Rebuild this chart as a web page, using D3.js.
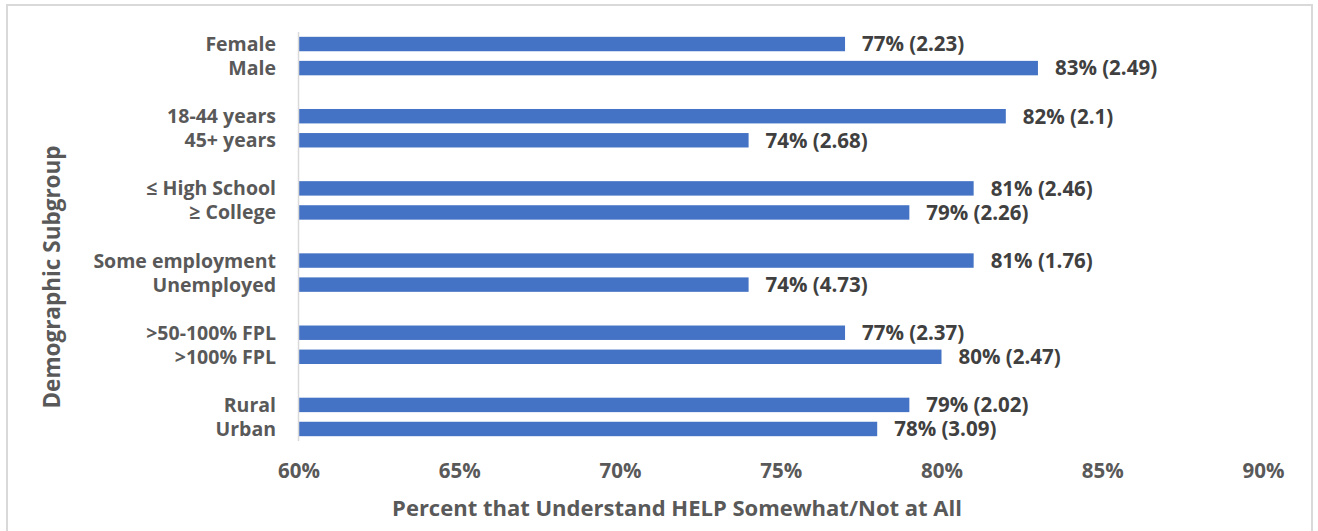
<!DOCTYPE html>
<html>
<head>
<meta charset="utf-8">
<script src="https://cdn.jsdelivr.net/npm/d3@7"></script>
<style>
  html, body { margin: 0; padding: 0; background: #ffffff; }
  svg { display: block; font-family: "Open Sans", "DejaVu Sans", sans-serif; }
</style>
</head>
<body>
<svg id="chart" width="1318" height="531"></svg>
<script>
// Subgroups, listed top to bottom; pairs belong to the same grouping variable
const categories = [
  "Female", "Male",
  "18-44 years", "45+ years",
  "\u2264 High School", "\u2265 College",
  "Some employment", "Unemployed",
  ">50-100% FPL", ">100% FPL",
  "Rural", "Urban"
];
const groupIndex = [0, 0, 1, 1, 2, 2, 3, 3, 4, 4, 5, 5];
const percentValues = [77, 83, 82, 74, 81, 79, 81, 74, 77, 80, 79, 78];
const standardErrors = [2.23, 2.49, 2.1, 2.68, 2.46, 2.26, 1.76, 4.73, 2.37, 2.47, 2.02, 3.09];
const xTicks = [60, 65, 70, 75, 80, 85, 90];

const svg = d3.select("#chart");
const margin = { top: 32, left: 298.5 };
const plotRight = 1263;
const plotBottom = 441;

// outer frame
svg.append("rect")
  .attr("x", 7).attr("y", 5)
  .attr("width", 1305).attr("height", 540)
  .attr("fill", "#ffffff")
  .attr("stroke", "#d9d9d9")
  .attr("stroke-width", 2);

// a blank slot separates each pair of subgroups
const slotOf = (i) => i + groupIndex[i];
const nSlots = slotOf(categories.length - 1) + 1;

const x = d3.scaleLinear().domain([60, 90]).range([margin.left, plotRight]);
const y = d3.scaleBand()
  .domain(d3.range(nSlots))
  .range([margin.top, plotBottom])
  .paddingInner(0.4)
  .paddingOuter(0.2);

const rows = categories.map((c, i) => ({
  label: c, value: percentValues[i], se: standardErrors[i], slot: slotOf(i)
}));

// bars
svg.append("g").selectAll("rect")
  .data(rows)
  .join("rect")
  .attr("x", x(60))
  .attr("y", d => y(d.slot))
  .attr("width", d => x(d.value) - x(60))
  .attr("height", y.bandwidth())
  .attr("fill", "#4472c4");

// vertical category axis line
svg.append("line")
  .attr("x1", x(60)).attr("x2", x(60))
  .attr("y1", margin.top).attr("y2", plotBottom)
  .attr("stroke", "#d9d9d9").attr("stroke-width", 1.5);

// category labels
svg.append("g").selectAll("text")
  .data(rows)
  .join("text")
  .attr("x", 276)
  .attr("y", d => y(d.slot) + y.bandwidth() / 2)
  .attr("dy", "0.36em")
  .attr("text-anchor", "end")
  .attr("font-size", 19.5)
  .attr("font-weight", 700)
  .attr("fill", "#595959")
  .text(d => d.label);

// value labels: percent and standard error
svg.append("g").selectAll("text")
  .data(rows)
  .join("text")
  .attr("x", d => x(d.value) + 17)
  .attr("y", d => y(d.slot) + y.bandwidth() / 2)
  .attr("dy", "0.36em")
  .attr("font-size", 20.5)
  .attr("font-weight", 700)
  .attr("fill", "#404040")
  .text(d => `${d.value}% (${d.se})`);

// x axis tick labels
const xAxis = d3.axisBottom(x)
  .tickValues(xTicks)
  .tickSize(0)
  .tickPadding(0)
  .tickFormat(d => d + "%");
const gx = svg.append("g")
  .attr("transform", `translate(0, ${plotBottom})`)
  .call(xAxis);
gx.select(".domain").remove();
gx.selectAll("text")
  .attr("y", 30)
  .attr("dy", "0.36em")
  .attr("font-family", "Open Sans, DejaVu Sans, sans-serif")
  .attr("font-size", 20.5)
  .attr("font-weight", 700)
  .attr("fill", "#595959");

// axis titles
svg.append("text")
  .attr("x", 677)
  .attr("y", 508)
  .attr("dy", "0.36em")
  .attr("text-anchor", "middle")
  .attr("font-size", 22)
  .attr("font-weight", 700)
  .attr("fill", "#595959")
  .text("Percent that Understand HELP Somewhat/Not at All");

svg.append("text")
  .attr("transform", "translate(52, 277) rotate(-90)")
  .attr("dy", "0.36em")
  .attr("text-anchor", "middle")
  .attr("font-size", 22.5)
  .attr("font-weight", 700)
  .attr("fill", "#595959")
  .text("Demographic Subgroup");
</script>
</body>
</html>
